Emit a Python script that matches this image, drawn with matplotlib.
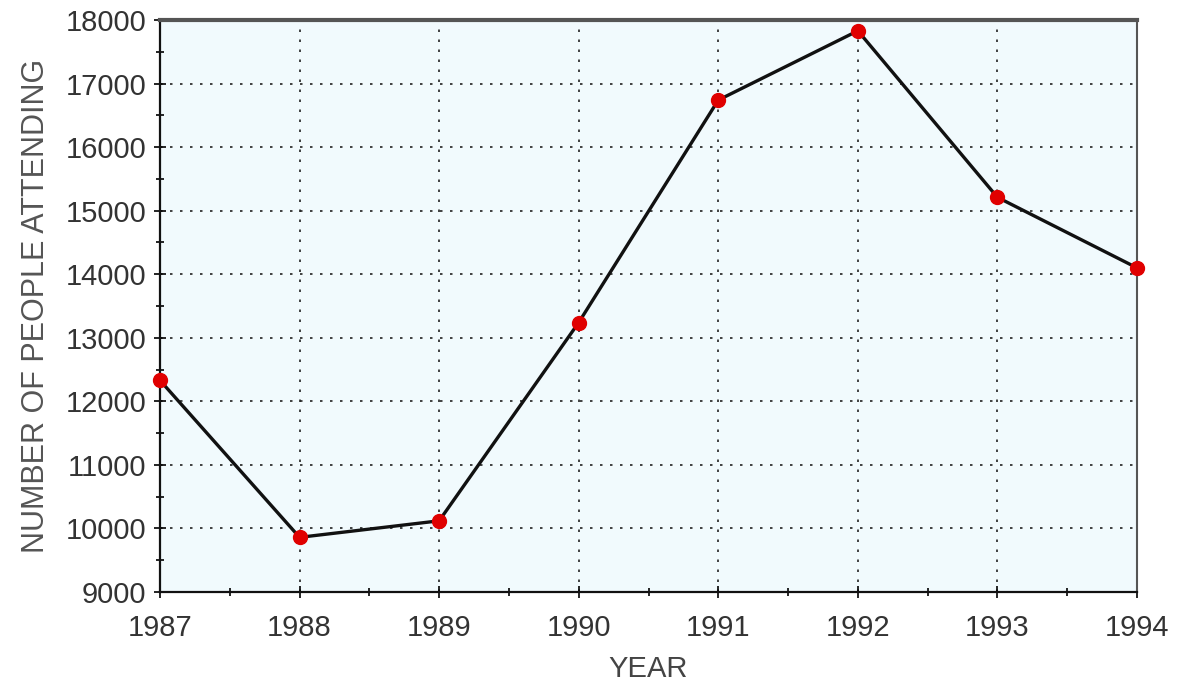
import matplotlib
matplotlib.use("Agg")
import matplotlib.pyplot as plt
from matplotlib.ticker import MultipleLocator

years = [1987, 1988, 1989, 1990, 1991, 1992, 1993, 1994]
attendance = [12330, 9860, 10120, 13240, 16740, 17830, 15210, 14100]
y_ticks = [9000, 10000, 11000, 12000, 13000, 14000, 15000, 16000, 17000, 18000]

plt.rcParams['font.family'] = ['Liberation Sans', 'DejaVu Sans']

fig = plt.figure(figsize=(11.78, 6.89), dpi=100)
ax = fig.add_axes([160/1178, 1-592/689, (1137-160)/1178, (592-20)/689])
ax.set_facecolor('#f1fafd')

ax.plot(years, attendance, color='#111111', lw=2.4, zorder=3, clip_on=False)
ax.plot(years, attendance, 'o', color='#e00000', ms=10, zorder=4, clip_on=False)

ax.set_xlim(1987, 1994)
ax.set_ylim(9000, 18000)
ax.set_xticks(years)
ax.set_yticks(y_ticks)
ax.xaxis.set_minor_locator(MultipleLocator(0.5))
ax.yaxis.set_minor_locator(MultipleLocator(500))

ax.grid(True, which='major', color='#222222', linestyle=(0, (1.5, 4.5)), lw=1.2)
ax.tick_params(axis='x', which='major', direction='inout', length=8, width=1.2,
               labelsize=21, labelcolor='#333333', pad=12)
ax.tick_params(axis='y', which='major', direction='inout', length=8, width=1.2,
               labelsize=21, labelcolor='#333333', pad=6)
ax.tick_params(axis='both', which='minor', direction='inout', length=6, width=1.2)

for s in ['left', 'bottom']:
    ax.spines[s].set_color('#111111')
    ax.spines[s].set_linewidth(1.6)
ax.spines['top'].set_color('#555555')
ax.spines['top'].set_linewidth(3)
ax.spines['right'].set_color('#555555')
ax.spines['right'].set_linewidth(1.5)

ax.set_xlabel('YEAR', fontsize=21, color='#444444', labelpad=9)
ax.set_ylabel('NUMBER OF PEOPLE ATTENDING', fontsize=22, color='#555555', labelpad=10)

fig.savefig('out.png', dpi=100)
